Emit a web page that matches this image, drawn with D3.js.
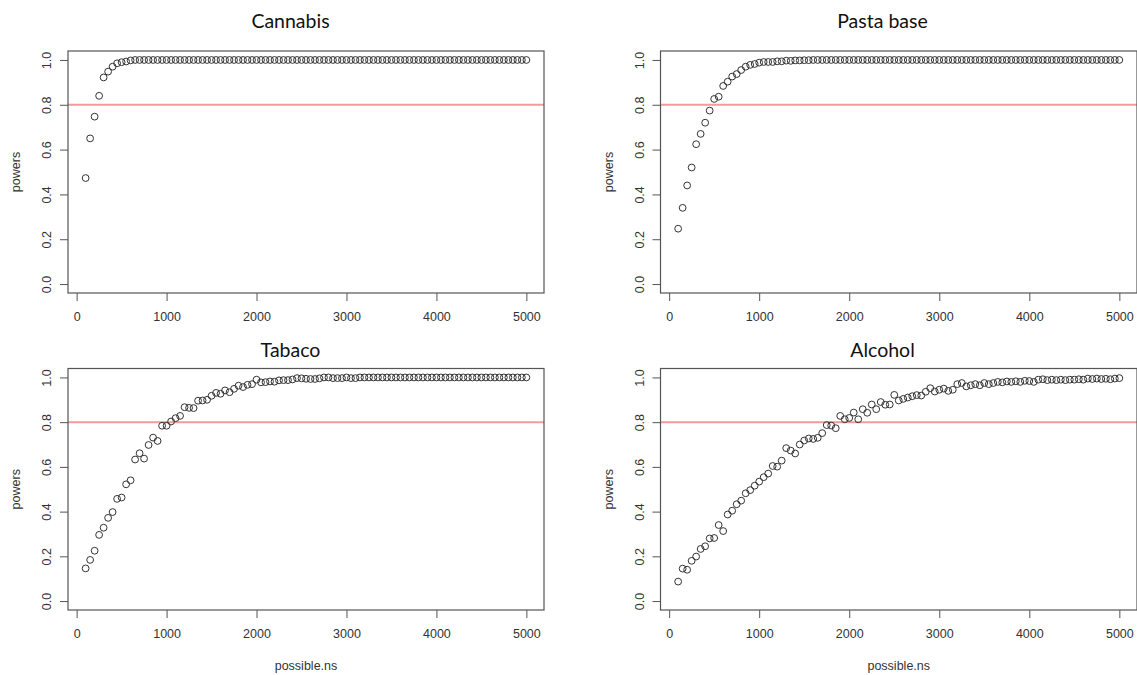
<!DOCTYPE html>
<html>
<head>
<meta charset="utf-8">
<script src="https://cdn.jsdelivr.net/npm/d3@7"></script>
<style>
  body { margin: 0; background: #fff; }
  svg { display: block; }
  .tick text { font-family: "Liberation Sans", Arial, sans-serif; font-size: 12.5px; fill: #333; }
  .tick line { stroke: #555; }
  .lab { font-family: "Liberation Sans", Arial, sans-serif; font-size: 12.5px; fill: #333; }
  .title { font-family: Lato, "Open Sans", sans-serif; font-size: 19.5px; font-weight: 400; fill: #111; }
</style>
</head>
<body>
<svg id="chart" width="1137" height="675"></svg>
<script>
// possible.ns, shared by every panel
var possibleNs = [100, 150, 200, 250, 300, 350, 400, 450, 500, 550, 600, 650, 700, 750, 800, 850, 900, 950,
  1000, 1050, 1100, 1150, 1200, 1250, 1300, 1350, 1400, 1450, 1500, 1550, 1600, 1650, 1700, 1750, 1800, 1850, 1900, 1950,
  2000, 2050, 2100, 2150, 2200, 2250, 2300, 2350, 2400, 2450, 2500, 2550, 2600, 2650, 2700, 2750, 2800, 2850, 2900, 2950,
  3000, 3050, 3100, 3150, 3200, 3250, 3300, 3350, 3400, 3450, 3500, 3550, 3600, 3650, 3700, 3750, 3800, 3850, 3900, 3950,
  4000, 4050, 4100, 4150, 4200, 4250, 4300, 4350, 4400, 4450, 4500, 4550, 4600, 4650, 4700, 4750, 4800, 4850, 4900, 4950, 5000];

var xTicks = [0, 1000, 2000, 3000, 4000, 5000];
var yTicks = [0, 0.2, 0.4, 0.6, 0.8, 1.0];
var target = 0.8;

var cannabis = [0.473, 0.65, 0.747, 0.84, 0.922, 0.948, 0.97, 0.985, 0.99, 0.993, 0.998, 1, 1, 1, 1, 1, 1, 1,
  1, 1, 1, 1, 1, 1, 1, 1, 1, 1, 1, 1, 1, 1, 1, 1, 1, 1, 1, 1,
  1, 1, 1, 1, 1, 1, 1, 1, 1, 1, 1, 1, 1, 1, 1, 1, 1, 1, 1, 1,
  1, 1, 1, 1, 1, 1, 1, 1, 1, 1, 1, 1, 1, 1, 1, 1, 1, 1, 1, 1,
  1, 1, 1, 1, 1, 1, 1, 1, 1, 1, 1, 1, 1, 1, 1, 1, 1, 1, 1, 1, 1];

var pastaBase = [0.247, 0.34, 0.44, 0.52, 0.624, 0.67, 0.72, 0.774, 0.826, 0.836, 0.884, 0.903, 0.926, 0.937, 0.955, 0.97, 0.978, 0.982,
  0.988, 0.991, 0.991, 0.991, 0.994, 0.994, 0.997, 0.996, 0.998, 0.998, 0.999, 0.999, 1, 1, 1, 1, 1, 1, 1, 1,
  1, 1, 1, 1, 1, 1, 1, 1, 1, 1, 1, 1, 1, 1, 1, 1, 1, 1, 1, 1,
  1, 1, 1, 1, 1, 1, 1, 1, 1, 1, 1, 1, 1, 1, 1, 1, 1, 1, 1, 1,
  1, 1, 1, 1, 1, 1, 1, 1, 1, 1, 1, 1, 1, 1, 1, 1, 1, 1, 1, 1, 1];

var tabaco = [0.146, 0.184, 0.225, 0.296, 0.328, 0.372, 0.398, 0.457, 0.463, 0.522, 0.54, 0.633, 0.661, 0.637, 0.698, 0.731, 0.716, 0.784,
  0.784, 0.803, 0.818, 0.828, 0.867, 0.864, 0.863, 0.896, 0.897, 0.9, 0.918, 0.931, 0.927, 0.942, 0.934, 0.949, 0.963, 0.957, 0.967, 0.97,
  0.99, 0.978, 0.979, 0.982, 0.981, 0.987, 0.988, 0.988, 0.991, 0.997, 0.996, 0.994, 0.993, 0.993, 0.996, 1, 1, 0.997, 0.997, 0.997,
  1, 0.997, 0.997, 1, 1, 1, 1, 1, 1, 1, 1, 1, 1, 1, 1, 1, 1, 1, 1, 1,
  1, 1, 1, 1, 1, 1, 1, 1, 1, 1, 1, 1, 1, 1, 1, 1, 1, 1, 1, 1, 1];

var alcohol = [0.087, 0.145, 0.14, 0.18, 0.199, 0.233, 0.245, 0.28, 0.282, 0.34, 0.313, 0.387, 0.404, 0.433, 0.449, 0.482, 0.496, 0.516,
  0.534, 0.554, 0.57, 0.604, 0.601, 0.628, 0.684, 0.673, 0.66, 0.7, 0.718, 0.727, 0.725, 0.73, 0.751, 0.787, 0.785, 0.773, 0.828, 0.813,
  0.819, 0.843, 0.813, 0.858, 0.842, 0.879, 0.858, 0.89, 0.878, 0.879, 0.922, 0.897, 0.904, 0.91, 0.916, 0.921, 0.919, 0.936, 0.952, 0.937,
  0.945, 0.95, 0.94, 0.945, 0.97, 0.975, 0.96, 0.965, 0.97, 0.965, 0.975, 0.97, 0.975, 0.98, 0.978, 0.982, 0.98, 0.983, 0.98, 0.985,
  0.984, 0.98, 0.99, 0.992, 0.988, 0.99, 0.988, 0.99, 0.988, 0.99, 0.99, 0.992, 0.99, 0.995, 0.993, 0.995, 0.993, 0.994, 0.992, 0.995, 0.997];

var panels = [
  {title: "Cannabis",   values: cannabis,  box: [68, 51, 544, 293],       titleX: 290.5, titleY: 27.7,  xlab: false},
  {title: "Pasta base", values: pastaBase, box: [660.5, 51, 1137, 293],   titleX: 882.5, titleY: 27.7,  xlab: false},
  {title: "Tabaco",     values: tabaco,    box: [68, 368.5, 544, 610],    titleX: 290.5, titleY: 357.3, xlab: true},
  {title: "Alcohol",    values: alcohol,   box: [660.5, 368.5, 1137, 610], titleX: 882.5, titleY: 357.3, xlab: true}
];

var svg = d3.select("#chart");

panels.forEach(function(p) {
  var left = p.box[0], top = p.box[1], right = p.box[2], bottom = p.box[3];
  // R style 4% padding around the data range
  var x = d3.scaleLinear().domain([100 - 196, 5000 + 196]).range([left, right]);
  var y = d3.scaleLinear().domain([-0.04, 1.04]).range([bottom, top]);

  var g = svg.append("g");

  g.append("text")
      .attr("class", "title")
      .attr("x", p.titleX)
      .attr("y", p.titleY)
      .attr("text-anchor", "middle")
      .text(p.title);

  g.append("line")
      .attr("x1", left).attr("x2", right)
      .attr("y1", y(target)).attr("y2", y(target))
      .attr("stroke", "#f39a9a")
      .attr("stroke-width", 2);

  g.append("rect")
      .attr("x", left).attr("y", top)
      .attr("width", right - left).attr("height", bottom - top)
      .attr("fill", "none")
      .attr("stroke", "#555")
      .attr("stroke-width", 1.2);

  var xAxis = g.append("g")
      .attr("transform", "translate(0," + bottom + ")")
      .call(d3.axisBottom(x).tickValues(xTicks).tickSize(8).tickPadding(11).tickSizeOuter(0).tickFormat(d3.format("d")));
  xAxis.select(".domain").remove();

  var yAxis = g.append("g")
      .attr("transform", "translate(" + left + ",0)")
      .call(d3.axisLeft(y).tickValues(yTicks).tickSize(8).tickSizeOuter(0).tickFormat(d3.format(".1f")));
  yAxis.select(".domain").remove();
  yAxis.selectAll(".tick text")
      .attr("x", null)
      .attr("dy", "0.35em")
      .attr("text-anchor", "middle")
      .attr("transform", "translate(-21,0) rotate(-90)");

  g.append("text")
      .attr("class", "lab")
      .attr("text-anchor", "middle")
      .attr("transform", "translate(" + (left - 52) + "," + ((top + bottom) / 2) + ") rotate(-90)")
      .attr("dy", "0.35em")
      .text("powers");

  if (p.xlab) {
    g.append("text")
        .attr("class", "lab")
        .attr("text-anchor", "middle")
        .attr("x", (left + right) / 2)
        .attr("y", 670)
        .text("possible.ns");
  }

  g.selectAll("circle")
      .data(p.values)
      .enter().append("circle")
      .attr("cx", function(d, i) { return x(possibleNs[i]); })
      .attr("cy", function(d) { return y(d); })
      .attr("r", 3.4)
      .attr("fill", "none")
      .attr("stroke", "#333")
      .attr("stroke-width", 1);
});
</script>
</body>
</html>
